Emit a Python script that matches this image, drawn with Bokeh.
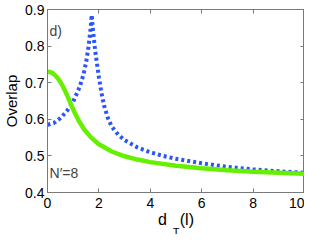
import math
from bokeh.plotting import figure
from bokeh.models import Label, LinearAxis, FixedTicker, Range1d, Title
from bokeh.embed import file_html
from bokeh.resources import INLINE

# data
x_blue = [0.0, 0.25, 0.5, 0.75, 1.0, 1.25, 1.4, 1.5, 1.6, 1.68, 1.72, 1.76, 1.85, 2.0, 2.1, 2.2, 2.35, 2.5, 2.75, 3.0, 3.5, 4.0, 4.5, 5.0, 6.0, 7.0, 8.0, 9.0, 10.0]
y_blue = [0.585, 0.590, 0.603, 0.622, 0.648, 0.688, 0.722, 0.755, 0.800, 0.850, 0.885, 0.850, 0.790, 0.715, 0.672, 0.638, 0.603, 0.580, 0.558, 0.543, 0.523, 0.510, 0.500, 0.492, 0.480, 0.470, 0.463, 0.458, 0.454]

x_green = [0.0, 0.1, 0.2, 0.3, 0.4, 0.5, 0.6, 0.7, 0.8, 0.9, 1.0, 1.2, 1.4, 1.7, 2.0, 2.5, 3.0, 3.5, 4.0, 5.0, 6.0, 7.0, 8.0, 9.0, 10.0]
y_green = [0.730, 0.729, 0.726, 0.720, 0.712, 0.702, 0.690, 0.675, 0.660, 0.643, 0.627, 0.598, 0.575, 0.550, 0.532, 0.512, 0.499, 0.490, 0.483, 0.473, 0.466, 0.461, 0.457, 0.454, 0.451]

x_ticks = [0, 2, 4, 6, 8, 10]
y_ticks = [0.4, 0.5, 0.6, 0.7, 0.8, 0.9]

AX = "#7a7a7a"
FONT = "Liberation Sans"

p = figure(width=304, height=234, output_backend="svg", toolbar_location=None,
           x_range=Range1d(0, 10), y_range=Range1d(0.4, 0.9),
           x_axis_type=None, y_axis_type=None,
           min_border=0)
p.xgrid.visible = False
p.ygrid.visible = False
p.outline_line_color = AX
p.background_fill_color = "white"
p.border_fill_color = "white"

def mk_axis(ticks, labels=True):
    ax = LinearAxis(ticker=FixedTicker(ticks=ticks))
    ax.axis_line_color = AX
    ax.major_tick_line_color = AX
    ax.major_tick_in = 4
    ax.major_tick_out = 0
    ax.minor_tick_line_color = None
    ax.major_label_text_font = FONT
    ax.major_label_text_color = "black"
    ax.axis_label_text_font = FONT
    ax.axis_label_text_font_style = "normal"
    ax.axis_label_text_color = "black"
    if labels:
        ax.major_label_text_font_size = "14px"
    else:
        ax.major_label_text_font_size = "0px"
    return ax

xb = mk_axis(x_ticks)
xb.major_label_standoff = 5
xb.axis_label = "d\u2009\u2009\u2009\u2009(l)"
xb.axis_label_text_font_size = "16px"
xb.axis_label_standoff = 0

yl = mk_axis(y_ticks)
yl.major_label_standoff = 3
yl.axis_label = "Overlap"
yl.axis_label_text_font_size = "15px"
yl.axis_label_standoff = 2

xt = mk_axis(x_ticks, labels=False)
xt.axis_label = "\u00a0"
xt.axis_label_text_font_size = "6px"
xt.axis_label_standoff = 0
yr = mk_axis(y_ticks, labels=False)
p.add_layout(xb, "below")
p.add_layout(yl, "left")
p.add_layout(xt, "above")
p.add_layout(yr, "right")

# subscript of the x-axis title
p.add_layout(Title(text="T", text_font=FONT, text_font_size="11px", text_font_style="normal",
                   text_color="black", align="center", vertical_align="top",
                   text_baseline="top", offset=-8, standoff=-10), "below")

p.line(x_blue, y_blue, line_color="#2a55ff", line_width=4, line_dash="3 3")
p.line(x_green, y_green, line_color="#66f000", line_width=4.5)

p.add_layout(Label(x=0.08, y=0.84, text="d)", text_font=FONT, text_font_size="14px",
                   text_baseline="middle", text_align="left"))
p.add_layout(Label(x=0.08, y=0.453, text="N\u2032=8", text_font=FONT, text_font_size="14px",
                   text_baseline="middle", text_align="left"))

open("out.html", "w").write(file_html(p, INLINE))
